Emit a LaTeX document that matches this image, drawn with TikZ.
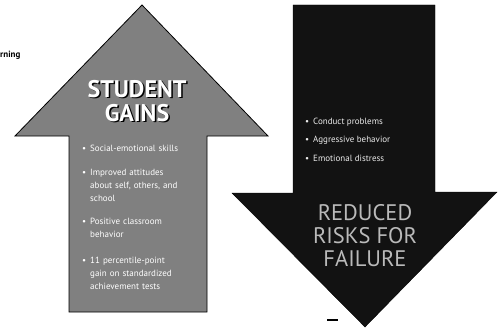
\documentclass[tikz,border=0pt]{standalone}
\usepackage{fontspec}
\setmainfont{PT Sans}
\begin{document}
\begin{tikzpicture}[x=1pt,y=-1pt,
        gainitem/.style={anchor=north west,inner sep=0pt,text width=116pt,align=left,text=white,font=\fontsize{9}{13}\selectfont},
        riskitem/.style={anchor=west,inner sep=0pt,text=black!8,font=\fontsize{9}{11}\selectfont},
        bigword/.style={inner sep=0pt,font=\fontsize{24}{24}\selectfont\bfseries}]
            \useasboundingbox (0,0) rectangle (498,329);
            \draw [fill=black!50, line width=0.8pt] (142,5) -- (268,136) -- (207,136) -- (207,312) -- (69,312) -- (69,136) -- (15,136) -- cycle;
            \draw [fill=black!93] (293,5) -- (435,5) -- (435,192) -- (497,192) -- (365,327) -- (232,193) -- (293,193) -- cycle;
            \node [anchor=west, inner sep=0pt, font=\fontsize{9}{9}\selectfont\bfseries] (learning) at (0,55) {rning};
            \node [bigword, text=black] at (138.5,90.5) {STUDENT};
            \node [bigword, text=white] (student) at (137,89) {STUDENT};
            \node [bigword, text=black] at (138.5,114.5) {GAINS};
            \node [bigword, text=white] (gains) at (137,113) {GAINS};
            \node [gainitem] (skills) at (90,145) {\llap{\textbullet\hspace{4pt}}Social-emotional skills};
            \node [gainitem] (attitudes) at (90,169) {\llap{\textbullet\hspace{4pt}}Improved attitudes\\about self, others, and\\school};
            \node [gainitem] (behavior) at (90,218) {\llap{\textbullet\hspace{4pt}}Positive classroom\\behavior};
            \node [gainitem] (tests) at (90,257) {\llap{\textbullet\hspace{4pt}}11 percentile-point\\gain on standardized\\achievement tests};
            \node [riskitem] (conduct) at (313,122) {\llap{\textbullet\hspace{4pt}}Conduct problems};
            \node [riskitem] (aggressive) at (313,140) {\llap{\textbullet\hspace{4pt}}Aggressive behavior};
            \node [riskitem] (distress) at (313,158) {\llap{\textbullet\hspace{4pt}}Emotional distress};
            \node [align=center, inner sep=0pt, text=black!27, font=\fontsize{22.5}{23}\selectfont] (risks) at (365,236) {REDUCED\\RISKS FOR\\FAILURE};
            \draw [line width=2pt] (327,320) -- (338,320);
        \end{tikzpicture}
\end{document}
